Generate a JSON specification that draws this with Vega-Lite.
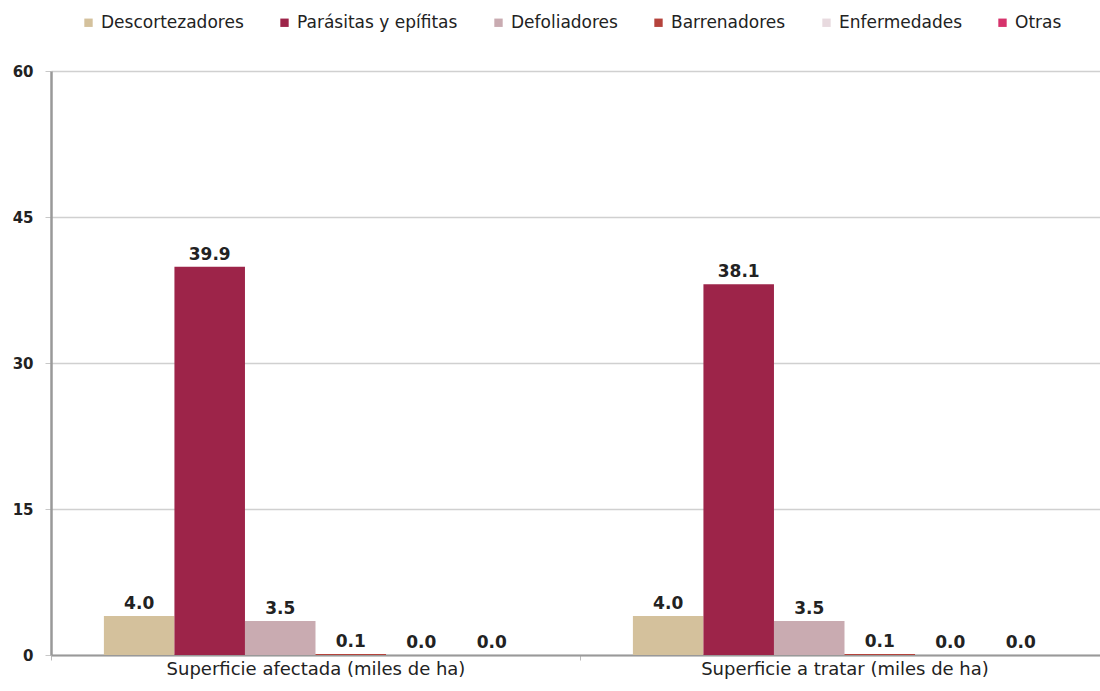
{
  "$schema": "https://vega.github.io/schema/vega-lite/v6.json",
  "autosize": {"type": "none"},
  "padding": {"left": 51, "top": 71, "right": 0, "bottom": 36},
  "width": 1058,
  "height": 584,
  "background": "white",
  "config": {
    "view": {"stroke": null},
    "font": "DejaVu Sans"
  },
  "data": {
    "values": [
      {"cat": "Superficie afectada (miles de ha)", "grupo": "Descortezadores", "valor": 4.0},
      {"cat": "Superficie afectada (miles de ha)", "grupo": "Parásitas y epífitas", "valor": 39.9},
      {"cat": "Superficie afectada (miles de ha)", "grupo": "Defoliadores", "valor": 3.5},
      {"cat": "Superficie afectada (miles de ha)", "grupo": "Barrenadores", "valor": 0.1},
      {"cat": "Superficie afectada (miles de ha)", "grupo": "Enfermedades", "valor": 0.0},
      {"cat": "Superficie afectada (miles de ha)", "grupo": "Otras", "valor": 0.0},
      {"cat": "Superficie a tratar (miles de ha)", "grupo": "Descortezadores", "valor": 4.0},
      {"cat": "Superficie a tratar (miles de ha)", "grupo": "Parásitas y epífitas", "valor": 38.1},
      {"cat": "Superficie a tratar (miles de ha)", "grupo": "Defoliadores", "valor": 3.5},
      {"cat": "Superficie a tratar (miles de ha)", "grupo": "Barrenadores", "valor": 0.1},
      {"cat": "Superficie a tratar (miles de ha)", "grupo": "Enfermedades", "valor": 0.0},
      {"cat": "Superficie a tratar (miles de ha)", "grupo": "Otras", "valor": 0.0}
    ]
  },
  "encoding": {
    "x": {
      "field": "cat", "type": "nominal", "sort": null,
      "scale": {"paddingInner": 0, "paddingOuter": 0},
      "axis": {
        "title": null, "labelAngle": 0, "labelFontSize": 18, "labelColor": "#222",
        "labelLimit": 0, "labelPadding": 0, "domainColor": "#999", "domainWidth": 2,
        "tickBand": "extent", "tickColor": "#bbb", "tickSize": 5, "grid": false
      }
    },
    "xOffset": {
      "field": "grupo", "type": "nominal",
      "sort": ["Descortezadores", "Parásitas y epífitas", "Defoliadores", "Barrenadores", "Enfermedades", "Otras"],
      "scale": {"paddingInner": 0, "paddingOuter": 0.75}
    },
    "y": {
      "field": "valor", "type": "quantitative",
      "scale": {"domain": [0, 60]},
      "axis": {
        "title": null, "values": [0, 15, 30, 45, 60], "labelFontSize": 15,
        "labelColor": "#222", "labelFontWeight": 600, "tickSize": 6, "tickColor": "#c8c8c8",
        "labelPadding": 12, "gridColor": "#d0d0d0", "gridWidth": 1.5,
        "domainColor": "#999", "domainWidth": 2.5
      }
    }
  },
  "layer": [
    {
      "mark": {"type": "bar"},
      "encoding": {
        "color": {
          "field": "grupo", "type": "nominal",
          "scale": {
            "domain": ["Descortezadores", "Parásitas y epífitas", "Defoliadores", "Barrenadores", "Enfermedades", "Otras"],
            "range": ["#D4C19C", "#9D2449", "#C9ABB1", "#B5433C", "#E8DADF", "#D6336C"]
          },
          "legend": {
            "title": null, "orient": "none", "direction": "horizontal",
            "legendX": 29, "legendY": -57, "symbolType": "square", "symbolSize": 70,
            "symbolStrokeWidth": 0, "labelFontSize": 17, "labelColor": "#222",
            "labelLimit": 0, "labelOffset": 4, "columnPadding": 32
          }
        }
      }
    },
    {
      "mark": {"type": "text", "dy": -12, "fontSize": 17, "fontWeight": 600, "color": "#222"},
      "encoding": {
        "text": {"field": "valor", "type": "quantitative", "format": ".1f"}
      }
    }
  ]
}
